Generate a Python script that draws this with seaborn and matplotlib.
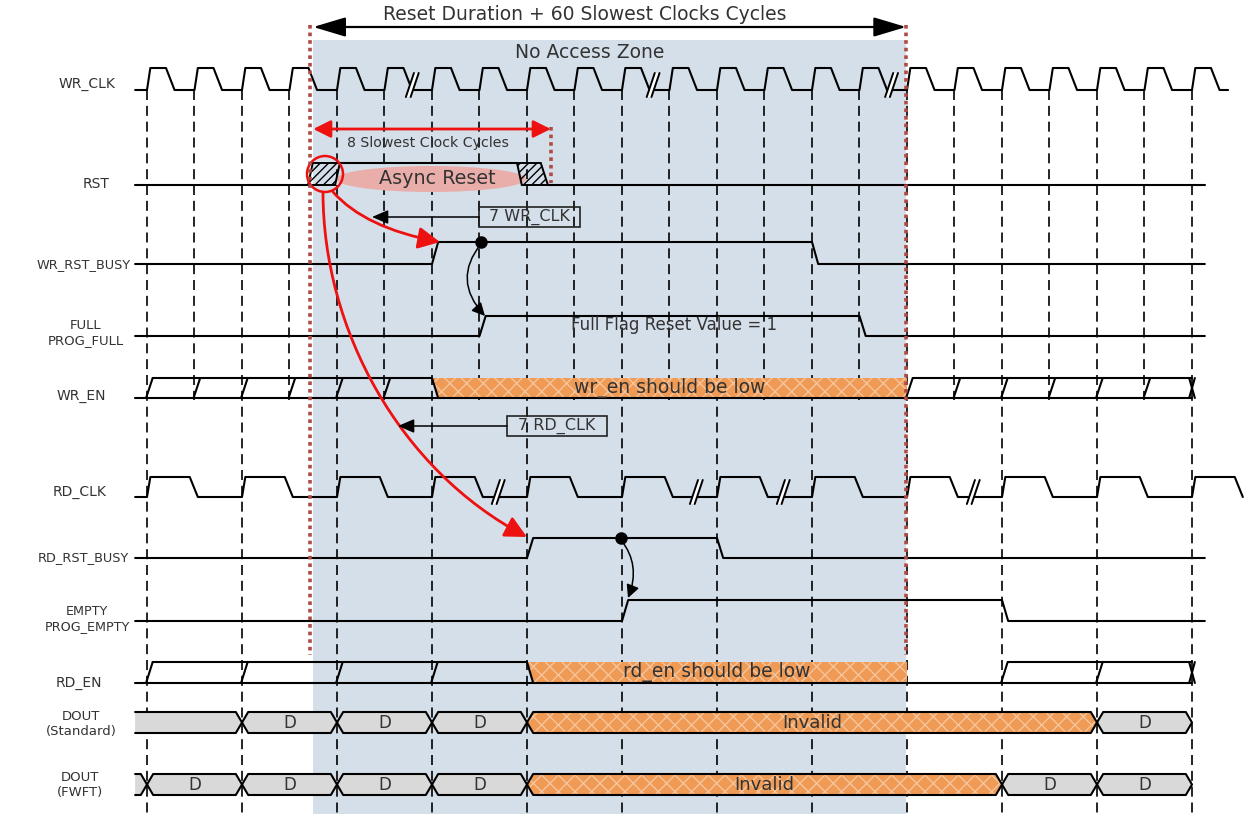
import numpy as np
import pandas as pd
import seaborn as sns
import matplotlib.pyplot as plt
from matplotlib.patches import Polygon, Rectangle, Ellipse, FancyArrowPatch
from matplotlib.path import Path

# time axis is measured in WR_CLK cycles (cycle 0 = first rising edge)
wr_clk_rises = [0, 1, 2, 3, 4, 5, 6, 7, 8, 9, 10, 11, 12, 13, 14, 15, 16, 17, 18, 19, 20, 21, 22]
rd_clk_rises = [0, 2, 4, 6, 8, 10, 12, 14, 16, 18, 20, 22]
wr_clk_breaks = [5.62, 10.69, 15.71]
rd_clk_breaks = [7.43, 11.6, 13.43, 17.43]

rst_assert = [3.39, 4.06]
rst_release = [7.79, 8.44]
wr_rst_busy_edges = [6, 14]
full_edges = [7, 15]
rd_rst_busy_edges = [8, 12]
empty_edges = [10, 18]

wr_en_toggles = [0, 1, 2, 3, 4, 5, 16, 17, 18, 19, 20, 21]
wr_en_low = [6, 16]
rd_en_toggles = [0, 2, 4, 6, 18, 20]
rd_en_low = [8, 16]
en_end = 22

dout_std_edges = [-0.25, 2, 4, 6, 8, 20, 22]
dout_std_values = ["", "D", "D", "D", "Invalid", "D"]
dout_fwft_edges = [-0.25, 0, 2, 4, 6, 8, 18, 20, 22]
dout_fwft_values = ["", "D", "D", "D", "D", "Invalid", "D", "D"]

no_access_zone = [3.5, 15.98]
slowest_8 = [3.5, 8.5]

signal_labels = ["WR_CLK", "RST", "WR_RST_BUSY", "FULL\nPROG_FULL", "WR_EN", "RD_CLK",
                 "RD_RST_BUSY", "EMPTY\nPROG_EMPTY", "RD_EN", "DOUT\n(Standard)", "DOUT\n(FWFT)"]

# ---- layout (pixels) ----
X0, PX = 147, 47.5
START, END = -0.25, 22.27
SL = 0.13
rows = {"wr_clk": (68, 90), "rst": (163, 185), "wr_busy": (242, 264), "full": (316, 336),
        "wr_en": (378, 398), "rd_clk": (477, 497), "rd_busy": (538, 558), "empty": (600, 621),
        "rd_en": (662, 683), "dout_std": (712, 733), "dout_fwft": (774, 795)}
label_pos = [(87, 84), (96, 184), (84, 265), (86, 333), (81, 396), (80, 492),
             (83, 558), (87, 619), (79, 683), (81, 724), (80, 785)]
label_size = [10, 10, 9.3, 9.5, 10, 10, 9.3, 9.2, 10, 9.5, 9.5]


def tx(px):
    return (px - X0) / PX


sns.set_theme(style="white")
plt.rcParams["font.family"] = ["DejaVu Sans"]
TXT = "#333333"
ORANGE, ORANGE_HATCH = "#ef9a55", "#f6c59c"
GREY = "#d9d9d9"
RED = "#ee1111"
DOT_RED = "#b04a44"

fig = plt.figure(figsize=(12.48, 8.14), dpi=100)
ax = fig.add_axes([0, 0, 1, 1])

paths = []


def clock_path(rises, lo, hi, rise, high_end, fall_end, end=None):
    pts = [(START, lo)]
    for r in rises:
        pts += [(r, lo), (r + rise, hi), (r + high_end, hi), (r + fall_end, lo)]
    if end is not None:
        pts.append((end, lo))
    return pts


def level_path(edges, lo, hi):
    pts = [(START, lo)]
    for e_up, e_dn in zip(edges[::2], edges[1::2]):
        pts += [(e_up, lo), (e_up + SL, hi), (e_dn, hi), (e_dn + SL, lo)]
    pts.append((END, lo))
    return pts


def enable_paths(toggles, low, lo, hi):
    out = [[(START, lo), (en_end, lo)]]
    before = [t for t in toggles if t < low[0]]
    after = [t for t in toggles if t >= low[1]]
    out.append([(before[0] + 0.12, hi), (low[0], hi), (low[0] + SL, lo)])
    out.append([(after[0] + 0.12, hi), (en_end, hi)])
    for t in toggles:
        out.append([(t - 0.02, lo), (t + 0.12, hi)])
    out.append([(en_end - 0.06, hi), (en_end + 0.06, lo)])
    out.append([(en_end - 0.06, lo), (en_end + 0.06, hi)])
    return out


def orange_block(x0, x1, lo, hi):
    verts = [(x0, hi), (x1, hi), (x1, lo), (x0 + SL, lo)]
    ax.add_patch(Polygon(verts, closed=True, facecolor=ORANGE, edgecolor="none", zorder=1.5))
    ax.add_patch(Polygon(verts, closed=True, facecolor="none", edgecolor=ORANGE_HATCH,
                         hatch="xx", lw=0, zorder=1.6))


def bus(edges, values, top, bot):
    yc = (top + bot) / 2
    s = 0.13
    for (a, b), v in zip(zip(edges[:-1], edges[1:]), values):
        if a < 0:
            verts = [(a, top), (b - s, top), (b, yc), (b - s, bot), (a, bot)]
        else:
            verts = [(a, yc), (a + s, top), (b - s, top), (b, yc), (b - s, bot), (a + s, bot)]
        fc = ORANGE if v == "Invalid" else GREY
        ax.add_patch(Polygon(verts, closed=True, facecolor=fc, edgecolor="none", zorder=1.5))
        if v == "Invalid":
            ax.add_patch(Polygon(verts, closed=True, facecolor="none", edgecolor=ORANGE_HATCH,
                                 hatch="xx", lw=0, zorder=1.6))
        paths.append(verts if a < 0 else verts + [verts[0]])
        if v:
            ax.text((a + b) / 2, yc, v, ha="center", va="center", fontsize=12 if v == "D" else 13,
                    color=TXT, zorder=5)


# background zone
ax.add_patch(Rectangle((no_access_zone[0], 40), no_access_zone[1] - no_access_zone[0], 780,
                       facecolor="#d5dfea", edgecolor="none", zorder=0))

# vertical guide lines
wr_only = [t for t in wr_clk_rises if t not in rd_clk_rises]
dash = (0, (6, 3.5))
for t in rd_clk_rises:
    ax.plot([t, t], [90, 814], color="black", lw=1.2, ls=dash, zorder=1)
for t in wr_only:
    ax.plot([t, t], [90, 400], color="black", lw=1.2, ls=dash, zorder=1)

# clocks
lo, hi = rows["wr_clk"][1], rows["wr_clk"][0]
paths.append(clock_path(wr_clk_rises, lo, hi, 0.07, 0.4, 0.58, end=22.76))
lo, hi = rows["rd_clk"][1], rows["rd_clk"][0]
paths.append(clock_path(rd_clk_rises, lo, hi, 0.07, 0.9, 1.07))

# reset
hi, lo = rows["rst"]
ax.add_patch(Ellipse((tx(431), 179), 190 / PX, 26, facecolor="#e9aeaa", edgecolor="none", zorder=1.5))
paths.append([(START, lo), (rst_assert[0], lo)])
paths.append([(rst_assert[1], hi), (rst_release[0], hi)])
paths.append([(rst_release[1], lo), (END, lo)])
for verts in ([(rst_assert[0], lo), (rst_assert[0] + 0.1, hi), (rst_assert[1], hi), (rst_assert[1] - 0.1, lo)],
              [(rst_release[0], hi), (rst_release[1] - 0.15, hi), (rst_release[1], lo), (rst_release[0] + 0.1, lo)]):
    ax.add_patch(Polygon(verts, closed=True, facecolor="none", edgecolor="black", hatch="////",
                         lw=1.4, zorder=2.5))

# level signals
for key, edges in [("wr_busy", wr_rst_busy_edges), ("full", full_edges),
                   ("rd_busy", rd_rst_busy_edges), ("empty", empty_edges)]:
    hi, lo = rows[key]
    paths.append(level_path(edges, lo, hi))

# enables
hi, lo = rows["wr_en"]
orange_block(wr_en_low[0], wr_en_low[1], lo, hi)
paths.extend(enable_paths(wr_en_toggles, wr_en_low, lo, hi))
ax.text(sum(wr_en_low) / 2, (hi + lo) / 2, "wr_en should be low", ha="center", va="center",
        fontsize=13.5, color=TXT, zorder=5)
hi, lo = rows["rd_en"]
orange_block(rd_en_low[0], rd_en_low[1], lo, hi)
paths.extend(enable_paths(rd_en_toggles, rd_en_low, lo, hi))
ax.text(sum(rd_en_low) / 2, (hi + lo) / 2, "rd_en should be low", ha="center", va="center",
        fontsize=13.5, color=TXT, zorder=5)

# data outputs
bus(dout_std_edges, dout_std_values, *rows["dout_std"])
bus(dout_fwft_edges, dout_fwft_values, *rows["dout_fwft"])

# draw all black polylines via seaborn
frames = []
for i, p in enumerate(paths):
    arr = np.array(p, dtype=float)
    frames.append(pd.DataFrame({"x": arr[:, 0], "y": arr[:, 1], "unit": i}))
df = pd.concat(frames, ignore_index=True)
sns.lineplot(data=df, x="x", y="y", units="unit", estimator=None, sort=False,
             color="black", lw=1.5, legend=False, ax=ax, zorder=2)


# break marks
def break_mark(x, yc):
    h, w, g = 12, 0.17, 0.1
    a = [(x - w, yc + h), (x, yc - h)]
    b = [(x - w + g, yc + h), (x + g, yc - h)]
    ax.add_patch(Polygon(a + b[::-1], closed=True, facecolor="white", edgecolor="none", zorder=3))
    for seg in (a, b):
        ax.plot(*zip(*seg), color="black", lw=1.4, zorder=3.1)


for b in wr_clk_breaks:
    break_mark(b, rows["wr_clk"][1] - 5)
for b in rd_clk_breaks:
    break_mark(b, rows["rd_clk"][1] - 5)

# dots and curved black arrows
for x, y in [(7.03, rows["wr_busy"][0]), (9.98, rows["rd_busy"][0])]:
    ax.plot(x, y, "o", color="black", ms=8, zorder=4)
for verts in ([(7.03, 244), (tx(452), 280), (tx(485), 316)],
              [(9.98, 540), (tx(641), 565), (tx(628), 598)]):
    ax.add_patch(FancyArrowPatch(path=Path(verts, [Path.MOVETO, Path.CURVE3, Path.CURVE3]),
                                 arrowstyle="-|>,head_length=0.6,head_width=0.3", mutation_scale=13,
                                 color="black", lw=1.1, zorder=4))
ax.text(tx(674), 325, "Full Flag Reset Value = 1", ha="center", va="center", fontsize=12,
        color=TXT, zorder=5)

# red async reset arrows
ax.add_patch(Ellipse((tx(325), 174), 36 / PX, 36, facecolor="none", edgecolor=RED, lw=1.8, zorder=4))
for verts, codes in (([(tx(333), 192), (tx(365), 228), (tx(440), 242)],
                      [Path.MOVETO, Path.CURVE3, Path.CURVE3]),
                     ([(tx(323), 192), (tx(323), 330), (tx(400), 470), (tx(527), 537)],
                      [Path.MOVETO, Path.CURVE4, Path.CURVE4, Path.CURVE4])):
    ax.add_patch(FancyArrowPatch(path=Path(verts, codes), arrowstyle="-|>,head_length=0.6,head_width=0.3",
                                 mutation_scale=22, color=RED, lw=2, zorder=4))

# delay boxes
for (x0, x1, y0, y1, xa, label) in [(tx(479), tx(580), 207, 227, tx(372), "7 WR_CLK"),
                                     (tx(507), tx(607), 416, 436, tx(398), "7 RD_CLK")]:
    ax.add_patch(Rectangle((x0, y0), x1 - x0, y1 - y0, facecolor="none", edgecolor="#222222",
                           lw=1.2, zorder=4))
    ax.text((x0 + x1) / 2, (y0 + y1) / 2, label, ha="center", va="center", fontsize=11.5,
            color=TXT, zorder=5)
    ax.add_patch(FancyArrowPatch((x0, (y0 + y1) / 2), (xa, (y0 + y1) / 2),
                                 arrowstyle="-|>,head_length=0.7,head_width=0.3", mutation_scale=14,
                                 color="black", lw=1.1, shrinkA=0, shrinkB=0, zorder=4))

# zone markers
for x in (tx(310), no_access_zone[1]):
    ax.plot([x, x], [25, 655], color=DOT_RED, lw=2.6, ls=(0, (1, 1.1)), zorder=4)
ax.plot([slowest_8[1]] * 2, [127, 183], color=DOT_RED, lw=2.6, ls=(0, (1, 1.1)), zorder=4)

ax.add_patch(FancyArrowPatch((no_access_zone[0], 27), (no_access_zone[1], 27),
                             arrowstyle="<|-|>,head_length=1.0,head_width=0.3", mutation_scale=20,
                             color="black", lw=1.6, shrinkA=0, shrinkB=0, zorder=4))
ax.text(tx(585), 14, "Reset Duration + 60 Slowest Clocks Cycles", ha="center", va="center",
        fontsize=13.5, color=TXT)
ax.text(tx(590), 53, "No Access Zone", ha="center", va="center", fontsize=13.5, color=TXT)

ax.add_patch(FancyArrowPatch((slowest_8[0], 129), (slowest_8[1], 129),
                             arrowstyle="<|-|>,head_length=0.7,head_width=0.35", mutation_scale=15,
                             color=RED, lw=2, shrinkA=0, shrinkB=0, zorder=4))
ax.text(tx(428), 143, "8 Slowest Clock Cycles", ha="center", va="center", fontsize=10.2,
        color=TXT, zorder=5)
ax.text(tx(437), 179, "Async Reset", ha="center", va="center", fontsize=13.8, color=TXT, zorder=5)

# signal names
for label, (x, y), fs in zip(signal_labels, label_pos, label_size):
    ax.text(tx(x), y, label, ha="center", va="center", fontsize=fs, color=TXT,
            multialignment="center", linespacing=1.2)

ax.set_xlim(tx(0), tx(1248))
ax.set_ylim(814, 0)
ax.axis("off")

fig.savefig("out.png", dpi=100)
